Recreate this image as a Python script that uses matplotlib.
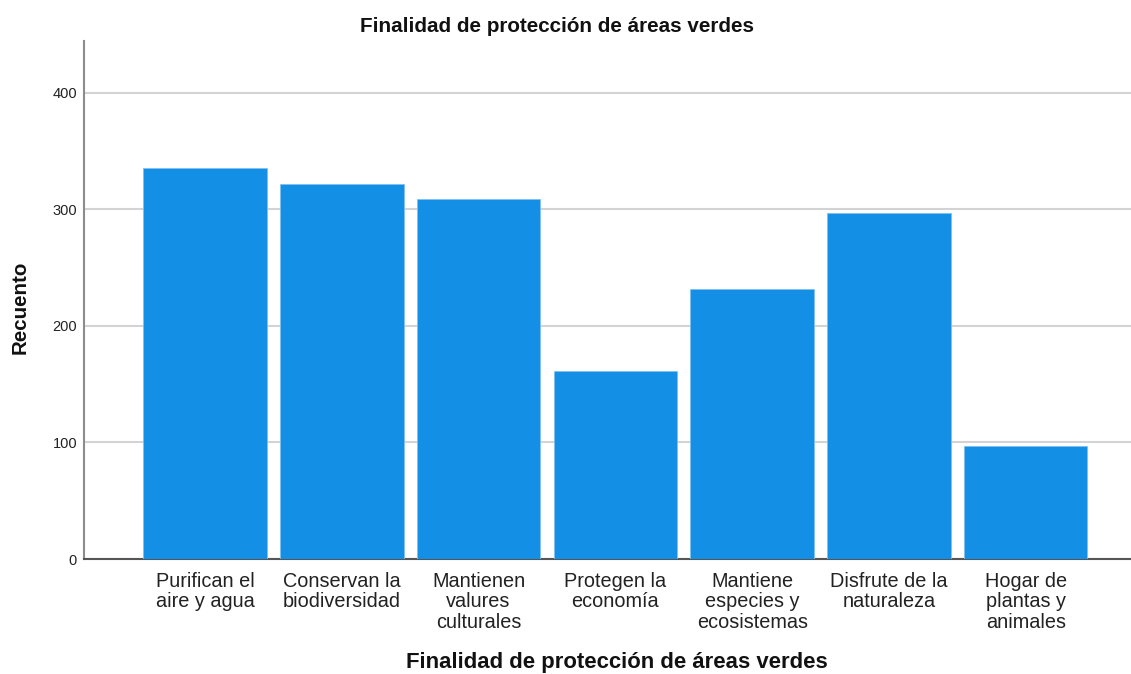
import matplotlib
matplotlib.use("Agg")
import matplotlib.pyplot as plt
import numpy as np

plt.rcParams['font.family'] = ['Liberation Sans', 'DejaVu Sans']

categories = [
    "Purifican el\naire y agua",
    "Conservan la\nbiodiversidad",
    "Mantienen\nvalures\nculturales",
    "Protegen la\neconomía",
    "Mantiene\nespecies y\necosistemas",
    "Disfrute de la\nnaturaleza",
    "Hogar de\nplantas y\nanimales",
]
counts = [335, 322, 309, 161, 232, 297, 97]
y_ticks = [0, 100, 200, 300, 400]

title = "Finalidad de protección de áreas verdes"
x_label = "Finalidad de protección de áreas verdes"
y_label = "Recuento"

bar_color = "#1390E6"
grid_color = "#D3D3D3"

fig = plt.figure(figsize=(11.31, 6.74), dpi=100)
ax = fig.add_axes([0.0743, 0.1706, 0.9257, 0.768])

x = np.arange(len(categories))
ax.bar(x, counts, width=0.902, color=bar_color, edgecolor="#7EC0F0",
       linewidth=0.6, zorder=3)

ax.set_xlim(-0.885, 6.77)
ax.set_ylim(0, 444)
ax.set_yticks(y_ticks)
ax.set_yticklabels([str(v) for v in y_ticks], fontsize=10.5, color="#222222")
ax.set_xticks(x)
ax.set_xticklabels(categories, fontsize=14.3, color="#222222",
                   multialignment="center", linespacing=1.12)
ax.tick_params(axis="both", length=0)
ax.tick_params(axis="y", pad=5)
ax.tick_params(axis="x", pad=9)

ax.yaxis.grid(True, color=grid_color, linewidth=1.5, zorder=0)
ax.set_axisbelow(True)

for side in ("top", "right"):
    ax.spines[side].set_visible(False)
ax.spines["left"].set_color("#8C8C8C")
ax.spines["left"].set_linewidth(1.5)
ax.spines["bottom"].set_color("#555555")
ax.spines["bottom"].set_linewidth(1.5)

ax.set_ylabel(y_label, fontsize=14.8, fontweight="bold", color="#111111")
ax.yaxis.label.set_va("center")
ax.yaxis.set_label_coords(-0.0607, 0.487)
ax.set_xlabel(x_label, fontsize=15.9, fontweight="bold", color="#111111")
ax.xaxis.label.set_va("center")
ax.xaxis.set_label_coords(0.509, -0.199)
fig.text(557 / 1131, 1 - 27 / 674, title, ha="center", va="center",
         fontsize=14.9, fontweight="bold", color="#111111")

fig.savefig("out.png", dpi=100)
